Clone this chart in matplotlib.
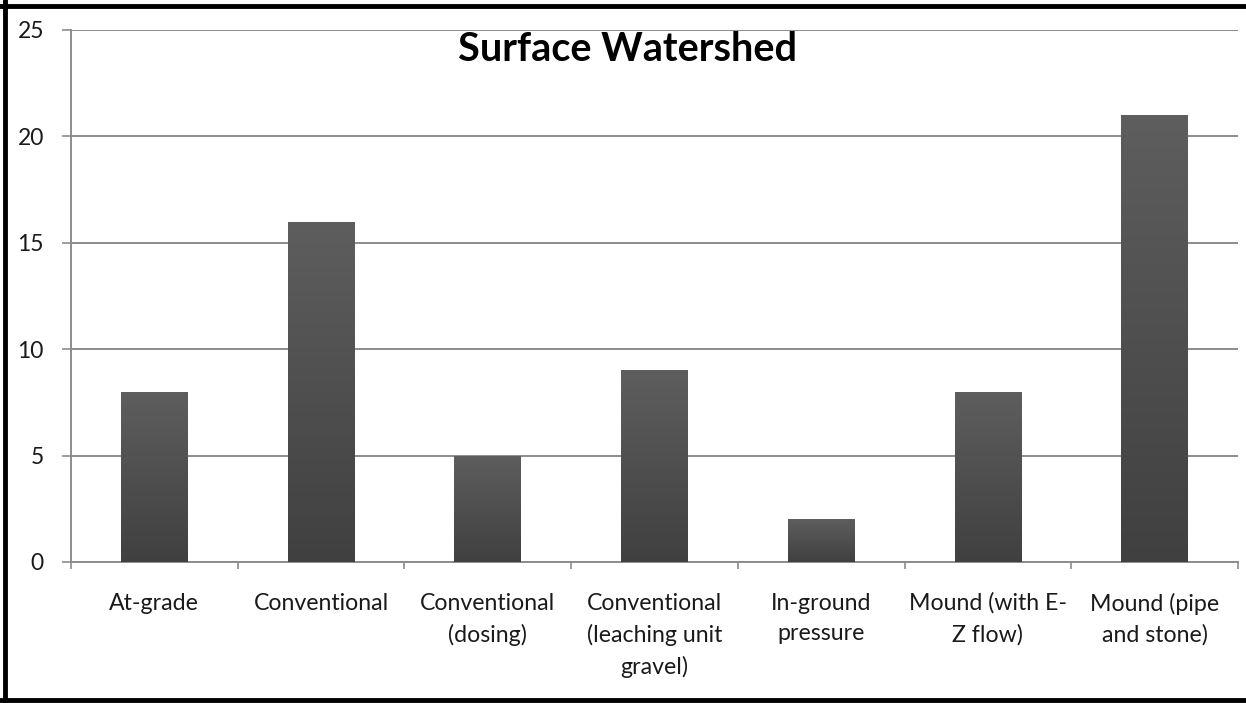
"""Bar chart of surface watershed counts by septic system type."""
import matplotlib.pyplot as plt
import numpy as np
from matplotlib.colors import LinearSegmentedColormap
from matplotlib.lines import Line2D

CATEGORIES = [
    "At-grade",
    "Conventional",
    "Conventional\n(dosing)",
    "Conventional\n(leaching unit\ngravel)",
    "In-ground\npressure",
    "Mound (with E-\nZ flow)",
    "Mound (pipe\nand stone)",
]
COUNTS = [8, 16, 5, 9, 2, 8, 21]

plt.rcParams["font.family"] = ["Lato", "DejaVu Sans"]

fig = plt.figure(figsize=(12.46, 7.03), dpi=100)
ax = fig.add_axes([71 / 1246, 1 - 562 / 703, (1238 - 71) / 1246, (562 - 30) / 703])

x = np.arange(len(CATEGORIES))
width = 0.4
bars = ax.bar(x, COUNTS, width=width, color="#555555", zorder=3)

# vertical shading on each bar: lighter at the top, darker at the base
shade = LinearSegmentedColormap.from_list("shade", ["#404040", "#5e5e5e"])
grad = np.linspace(0, 1, 256).reshape(-1, 1)
for b in bars:
    x0, w, h = b.get_x(), b.get_width(), b.get_height()
    im = ax.imshow(grad, cmap=shade, origin="lower", aspect="auto",
                   extent=(x0, x0 + w, 0, h), zorder=4)
    im.set_clip_path(b)

ax.set_xlim(-0.5, len(CATEGORIES) - 0.5)
ax.set_ylim(0, 25)
ax.set_yticks(range(0, 26, 5))
ax.yaxis.grid(True, color="#8c8c8c", linewidth=1.4, zorder=1)
ax.tick_params(axis="y", length=6.5, width=1.2, color="#8c8c8c",
               labelsize=16.5, labelcolor="#1a1a1a", pad=13)

ax.set_xticks(x)
ax.set_xticklabels(CATEGORIES, fontsize=16.7, color="#1a1a1a", linespacing=1.55)
ax.tick_params(axis="x", length=0, pad=22)
ax.set_xticks(np.arange(len(CATEGORIES) + 1) - 0.5, minor=True)
ax.tick_params(axis="x", which="minor", length=5, width=1.2,
               color="#8c8c8c", direction="out")

for side in ("top", "right"):
    ax.spines[side].set_visible(False)
for side in ("left", "bottom"):
    ax.spines[side].set_color("#8c8c8c")
    ax.spines[side].set_linewidth(1.4)

fig.text(0.504, 0.930, "Surface Watershed", ha="center", va="center",
         fontsize=28.5, fontweight="bold", color="black")

# black frame on left, top and bottom edges
for xs, ys in [((0.004, 0.004), (0, 1)), ((0, 1), (0.992, 0.992)),
               ((0, 1), (0.004, 0.004))]:
    fig.add_artist(Line2D(xs, ys, transform=fig.transFigure,
                          color="black", linewidth=3.5))

fig.savefig("out.png", dpi=100)
